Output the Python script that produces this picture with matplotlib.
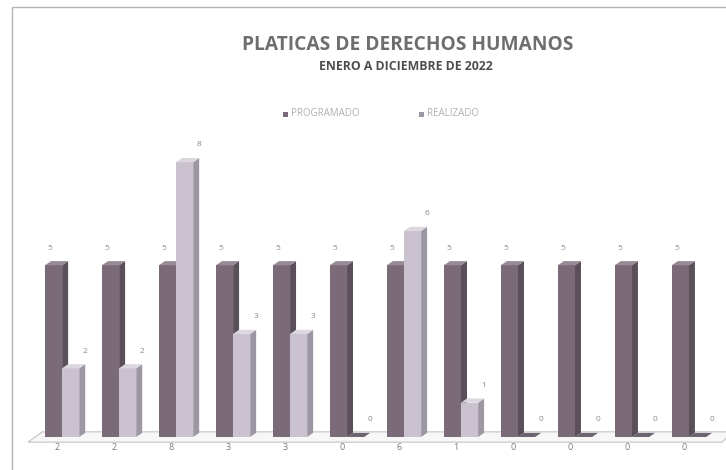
import matplotlib
matplotlib.use("Agg")
import matplotlib.pyplot as plt
from matplotlib.patches import Polygon, Rectangle

meses = ["ENE", "FEB", "MAR", "ABR", "MAY", "JUN", "JUL", "AGO", "SEP", "OCT", "NOV", "DIC"]
programado = [5, 5, 5, 5, 5, 5, 5, 5, 5, 5, 5, 5]
realizado = [2, 2, 8, 3, 3, 0, 6, 1, 0, 0, 0, 0]

col_prog = ("#7b6b78", "#5b505a", "#978a95")   # front, side, top
col_real = ("#cbc2cf", "#9d96a3", "#ddd7e0")

plt.rcParams['font.family'] = ['Open Sans', 'DejaVu Sans']

fig = plt.figure(figsize=(7.26, 4.70), dpi=100)
fig.patch.set_facecolor("white")

# light frame around the whole chart
fig.patches.append(Rectangle((12 / 726, -0.05), 1.2, (470 - 7) / 470 + 0.05,
                             transform=fig.transFigure, fill=False,
                             edgecolor="#b5b5b5", linewidth=1.0))

ax = fig.add_axes([28 / 726, 33 / 470, 694 / 726, 292 / 470])
ax.set_xlim(-0.509, 11.67)
ax.set_ylim(0, 8.5)
ax.axis("off")

w = 0.30     # bar front width
dx = 0.105   # depth offset in x
dy = 0.12    # depth offset in y

# floor
floor = Polygon([(-0.509, -0.15), (11.67, -0.15), (11.67 + 0.2, 0.15), (-0.509 + 0.25, 0.15)],
                closed=True, facecolor="#f7f7f7", edgecolor="#c4c4c4", linewidth=0.8, clip_on=False)
ax.add_patch(floor)


def bar3d(x0, h, cols):
    front, side, top = cols
    ax.bar(x0, h, width=w, bottom=0, align="edge", color=front, edgecolor="none", zorder=3)
    ax.add_patch(Polygon([(x0 + w, 0), (x0 + w + dx, dy), (x0 + w + dx, h + dy), (x0 + w, h)],
                         closed=True, facecolor=side, edgecolor="none", zorder=3, clip_on=False))
    ax.add_patch(Polygon([(x0, h), (x0 + dx, h + dy), (x0 + w + dx, h + dy), (x0 + w, h)],
                         closed=True, facecolor=top, edgecolor="none", zorder=3, clip_on=False))


for i in range(len(meses)):
    xp = i - 0.21
    xr = i + 0.09
    bar3d(xp, programado[i], col_prog)
    bar3d(xr, realizado[i], col_real if realizado[i] > 0 else ("#6c6470", "#6c6470", "#6c6470"))
    ax.text(xp + 0.08, programado[i] + 0.5, str(programado[i]), ha="center", va="center",
            fontsize=6, color="#8a8a8a")
    ax.text(xr + w + 0.1, realizado[i] + 0.5, str(realizado[i]), ha="center", va="center",
            fontsize=6, color="#8a8a8a")
    # category labels show the realized count
    ax.text(i, -0.32, str(realizado[i]), ha="center", va="center", fontsize=6.5, color="#7a7a7a")

fig.text(408 / 726, 1 - 45 / 470, "PLATICAS DE DERECHOS HUMANOS", ha="center", va="center",
         fontsize=13.8, fontweight="bold", color="#6e6e6e")
fig.text(406 / 726, 1 - 67 / 470, "ENERO A DICIEMBRE DE 2022", ha="center", va="center",
         fontsize=8.8, fontweight="bold", color="#4e4e4e")

# legend
for mx, label, c in [(283, "PROGRAMADO", col_prog[0]), (419, "REALIZADO", col_real[1])]:
    fig.patches.append(Rectangle((mx / 726, 1 - 116.5 / 470), 5 / 726, 5 / 470,
                                 transform=fig.transFigure, facecolor=c, edgecolor="none"))
    fig.text((mx + 8) / 726, 1 - 114 / 470, label, ha="left", va="center",
             fontsize=7, color="#b0b0b0")

fig.savefig("out.png", dpi=100)
